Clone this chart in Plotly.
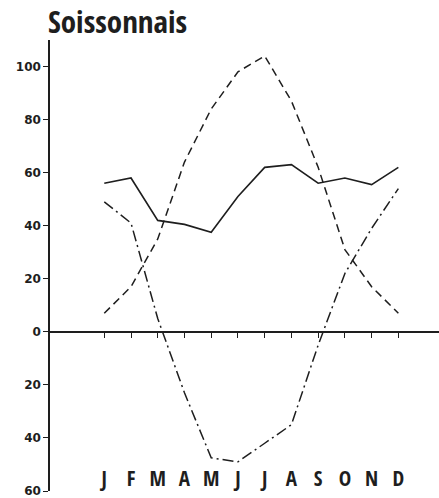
import plotly.graph_objects as go

months = ["J", "F", "M", "A", "M", "J", "J", "A", "S", "O", "N", "D"]
solid_series = [56, 58, 42, 40.5, 37.5, 51, 62, 63, 56, 58, 55.5, 62]
dashed_series = [7, 17, 35, 64, 84, 98, 104, 87, 62, 31, 17, 7]
dashdot_series = [49, 41, 5, -23, -47.5, -49, -42, -35, -5, 22, 39, 54]
ytick_vals = [-60, -40, -20, 0, 20, 40, 60, 80, 100]
ytick_text = ["60", "40", "20", "0", "20", "40", "60", "80", "100"]
month_label_y = -56

x = list(range(len(months)))
ink = "#1e1e1e"
cond = "Open Sans Condensed, Roboto Condensed, sans-serif"

fig = go.Figure()
fig.add_trace(go.Scatter(x=x, y=solid_series, mode="lines",
                         line=dict(color=ink, width=1.6), showlegend=False))
fig.add_trace(go.Scatter(x=x, y=dashed_series, mode="lines",
                         line=dict(color=ink, width=1.5, dash="8px,5px"), showlegend=False))
fig.add_trace(go.Scatter(x=x, y=dashdot_series, mode="lines",
                         line=dict(color=ink, width=1.5, dash="11px,4px,2px,4px"), showlegend=False))
fig.add_trace(go.Scatter(x=x, y=[month_label_y] * len(months), mode="text", text=months,
                         textfont=dict(family=cond, size=21, color=ink, weight="bold"),
                         showlegend=False, hoverinfo="skip"))

ymin, ymax = -60, 110
fig.update_layout(
    width=439, height=498,
    margin=dict(l=50, r=0, t=40, b=5),
    paper_bgcolor="white", plot_bgcolor="white",
    xaxis=dict(range=[-2.03, 12.52], tickvals=x, showticklabels=False,
               ticks="outside", ticklen=5, tickwidth=1.2, tickcolor=ink,
               showline=True, linecolor=ink, linewidth=2,
               anchor="free", position=(0 - ymin) / (ymax - ymin),
               showgrid=False, zeroline=False),
    yaxis=dict(range=[ymin, ymax], tickvals=ytick_vals, ticktext=ytick_text,
               ticks="outside", ticklen=5, tickwidth=1.2, tickcolor=ink,
               showline=True, linecolor=ink, linewidth=1.5,
               ticklabeloverflow="allow",
               tickfont=dict(family="DejaVu Sans", size=12, color=ink, weight="bold"),
               showgrid=False, zeroline=False),
    annotations=[dict(text="Soissonnais", xref="paper", yref="paper", x=0, y=1,
                      xanchor="left", yanchor="bottom", showarrow=False, xshift=-4, yshift=-4,
                      font=dict(family=cond, size=31, color=ink, weight="bold"))],
)

fig.write_html("out.html")
